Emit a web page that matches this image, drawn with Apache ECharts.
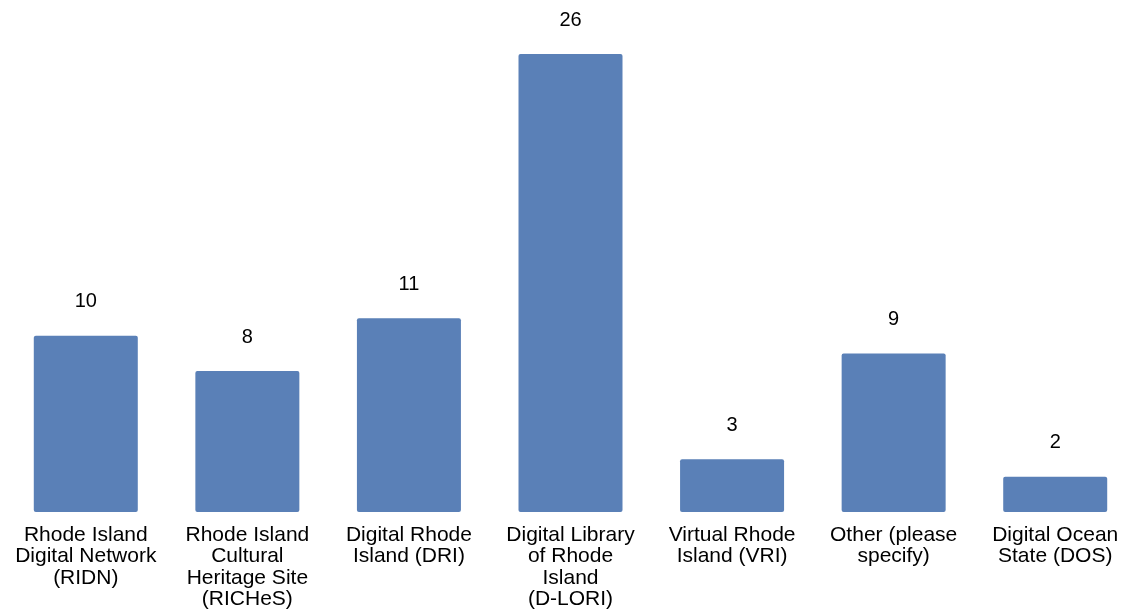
<!DOCTYPE html>
<html>
<head>
<meta charset="utf-8">
<script src="https://cdn.jsdelivr.net/npm/echarts@6/dist/echarts.min.js"></script>
<style>
  html, body { margin: 0; padding: 0; background: #ffffff; overflow: hidden; }
  #chart { width: 1136px; height: 613px; }
</style>
</head>
<body>
<div id="chart"></div>
<script>
// Survey responses: name recognition of Rhode Island digital collections
const categories = [
  'Rhode Island\nDigital Network\n(RIDN)',
  'Rhode Island\nCultural\nHeritage Site\n(RICHeS)',
  'Digital Rhode\nIsland (DRI)',
  'Digital Library\nof Rhode\nIsland\n(D-LORI)',
  'Virtual Rhode\nIsland (VRI)',
  'Other (please\nspecify)',
  'Digital Ocean\nState (DOS)'
];
const counts = [10, 8, 11, 26, 3, 9, 2];

const chart = echarts.init(document.getElementById('chart'), null, { renderer: 'canvas' });
chart.setOption({
  animation: false,
  backgroundColor: '#ffffff',
  textStyle: { fontFamily: 'Liberation Sans, Arial, sans-serif' },
  grid: { left: 5, right: 0, top: 54, bottom: 101, containLabel: false },
  xAxis: {
    type: 'category',
    data: categories,
    axisLine: { show: false },
    axisTick: { show: false },
    axisLabel: {
      interval: 0,
      margin: 12,
      color: '#000000',
      fontSize: 21,
      lineHeight: 21.5,
      align: 'center',
      verticalAlign: 'top'
    }
  },
  yAxis: {
    type: 'value',
    min: 0,
    max: 26,
    show: false,
    splitLine: { show: false }
  },
  series: [{
    type: 'bar',
    data: counts,
    barWidth: 104,
    itemStyle: { color: '#5a80b7', borderRadius: 2 },
    label: {
      show: true,
      position: 'top',
      distance: 24,
      color: '#000000',
      fontSize: 20
    }
  }]
});
</script>
</body>
</html>
